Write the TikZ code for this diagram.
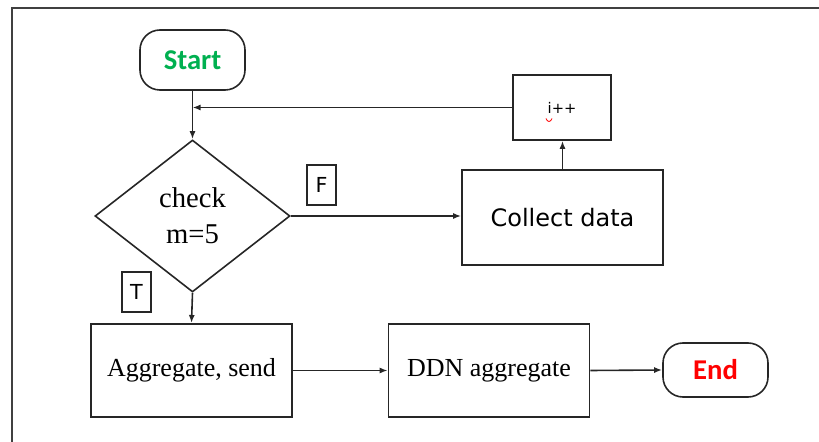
\documentclass[tikz,border=0pt]{standalone}
\usepackage{fontspec}
\setmainfont{Liberation Serif}
\newfontfamily\dvsans{DejaVu Sans}
\newfontfamily\calfont{Carlito}
\usetikzlibrary{shapes.geometric,arrows.meta}
\definecolor{startgreen}{HTML}{00B050}
\definecolor{linegray}{HTML}{262626}
\definecolor{framegray}{HTML}{404040}
\begin{document}
\begin{tikzpicture}[x=0.75pt,y=-0.75pt,
  every node/.style={draw=linegray, line width=1.2pt, inner sep=0pt, text=black},
  terminal/.style={rectangle, rounded corners=15pt, minimum width=78.75pt, font=\calfont\bfseries\fontsize{21.5}{25}\selectfont},
  procbox/.style={rectangle, minimum width=150.75pt, minimum height=70pt},
  serifbox/.style={procbox, font=\fontsize{19.5}{23}\selectfont},
  tagbox/.style={rectangle, minimum width=21.75pt, minimum height=30pt, font=\dvsans\fontsize{15.5}{18}\selectfont},
  conn/.style={draw=linegray, line width=1.2pt, -{Latex[length=6pt,width=4.5pt]}}
]
\useasboundingbox (0,0) rectangle (819,442);
\draw[framegray, line width=1.6pt] (12,442) -- (12,8) -- (819,8);

\node[terminal, minimum height=45pt, text=startgreen] (start) at (192.5,60) {Start};
\node[diamond, minimum width=146.25pt, minimum height=114pt, align=center,
      font=\fontsize{21.5}{27}\selectfont] (dia) at (192.5,216) {check\\m=5};
\node[procbox, minimum height=71.25pt, font=\dvsans\fontsize{18}{21}\selectfont] (collect) at (562.5,217.5) {Collect data};
\node[rectangle, minimum width=73.5pt, minimum height=48.75pt, font=\dvsans\fontsize{11}{13}\selectfont] (ipp) at (562,107.5) {i++};
\node[tagbox] (ftag) at (321.5,185) {F};
\node[tagbox] (ttag) at (136.5,292) {T};
\node[serifbox] (agg) at (191.5,370.5) {Aggregate, send};
\node[serifbox] (ddn) at (489,370.5) {DDN aggregate};
\node[terminal, minimum height=40.5pt, text=red] (end) at (715.5,370) {End};

\draw[red, line width=0.6pt] (546,118.5) .. controls (547.5,122.5) and (550.5,122.5) .. (552,118.5);

\coordinate (join) at (start.south |- ipp.west);
\draw[conn] (start.south) -- (dia.north);
\draw[conn] (ipp.west) -- (join);
\draw[conn] (dia.east) -- (dia.east -| collect.west);
\draw[conn] (collect.north) -- (collect.north |- ipp.south);
\draw[conn] (dia.south) -- (agg.north);
\draw[conn] (agg.east) -- (ddn.west);
\draw[conn] (ddn.east) -- (end.west);
\end{tikzpicture}
\end{document}
